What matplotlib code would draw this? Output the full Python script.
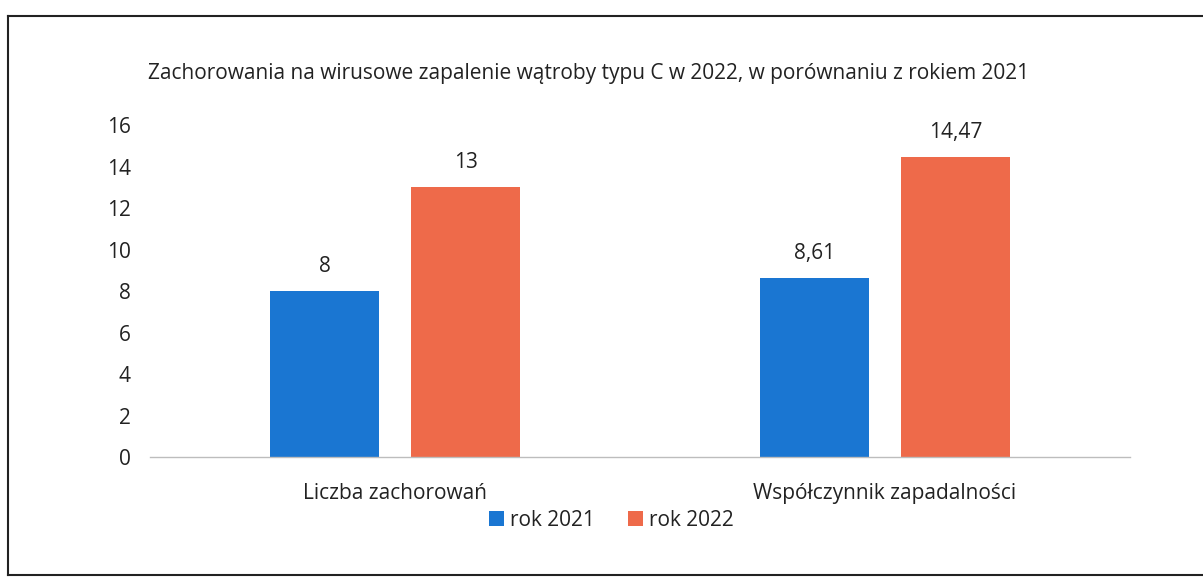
import matplotlib
matplotlib.use("Agg")
from matplotlib import pyplot as plt
from matplotlib.lines import Line2D
import numpy as np

categories = ["Liczba zachorowań", "Współczynnik zapadalności"]
rok_2021 = [8, 8.61]
rok_2022 = [13, 14.47]
labels_2021 = ["8", "8,61"]
labels_2022 = ["13", "14,47"]
series_names = ["rok 2021", "rok 2022"]
title = "Zachorowania na wirusowe zapalenie wątroby typu C w 2022, w porównaniu z rokiem 2021"

plt.rcParams['font.family'] = ['Open Sans', 'DejaVu Sans']

blue = "#1a76d2"
red = "#ee6a4a"
txt = "#222222"
fs = 15

fig = plt.figure(figsize=(12.03, 5.78), dpi=100)
ax = fig.add_axes([0.1247, 0.2093, 0.8146, 0.5744])

x = np.arange(len(categories))
width = 0.224
off = 0.144
b1 = ax.bar(x - off, rok_2021, width, color=blue, label=series_names[0])
b2 = ax.bar(x + off, rok_2022, width, color=red, label=series_names[1])

for bars, labs in [(b1, labels_2021), (b2, labels_2022)]:
    for rect, lab in zip(bars, labs):
        ax.annotate(lab, (rect.get_x() + rect.get_width() / 2, rect.get_height()),
                    xytext=(0, 10), textcoords="offset points",
                    ha="center", va="bottom", fontsize=fs, color=txt)

ax.set_xlim(-0.5, 1.5)
ax.set_ylim(0, 16)
ax.set_yticks(range(0, 17, 2))
ax.set_xticks(x)
ax.set_xticklabels(categories)
ax.tick_params(axis='y', length=0, pad=14, labelsize=fs, labelcolor=txt)
ax.tick_params(axis='x', length=0, pad=19, labelsize=fs, labelcolor=txt)
for s in ["top", "right", "left"]:
    ax.spines[s].set_visible(False)
ax.spines["bottom"].set_color("#bdbdbd")
ax.spines["bottom"].set_linewidth(1)

fig.text(0.123, 0.873, title, fontsize=fs, color=txt, va="center", ha="left")

ax.legend(loc="center", bbox_to_anchor=(0.471, -0.19), ncol=2, frameon=False,
          fontsize=fs, handlelength=0.7, handleheight=0.7, handletextpad=0.3,
          columnspacing=1.6)
for t in ax.get_legend().get_texts():
    t.set_color(txt)

# ramka skanu
fig.add_artist(Line2D([0.0067, 0.0067], [0.005, 0.972], color=txt, lw=1.5))
fig.add_artist(Line2D([0.0067, 1.0], [0.972, 0.972], color=txt, lw=1.5))
fig.add_artist(Line2D([0.0067, 1.0], [0.005, 0.005], color=txt, lw=1.5))

fig.savefig("out.png", dpi=100)
